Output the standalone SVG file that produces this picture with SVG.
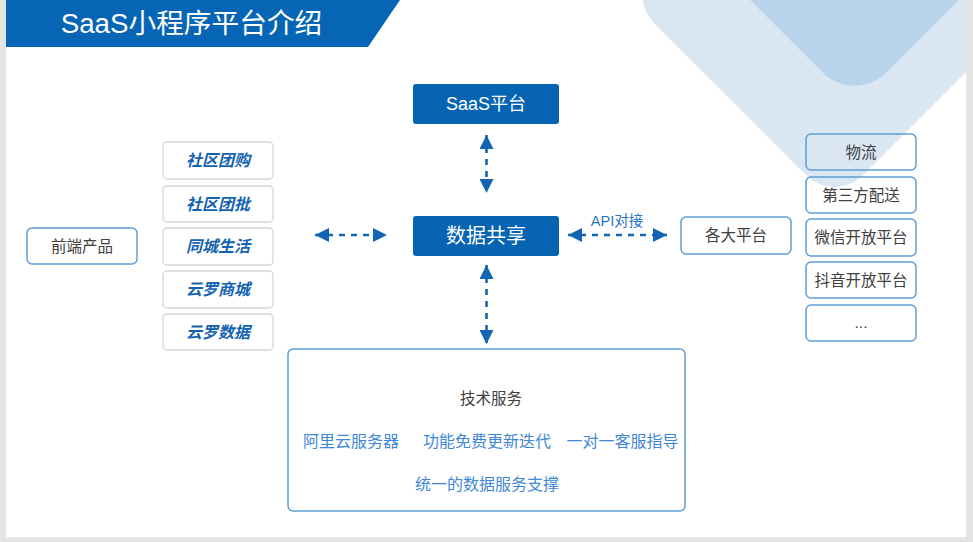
<svg xmlns="http://www.w3.org/2000/svg" width="973" height="542" viewBox="0 0 973 542">
<style>
.cjk{font-family:"Liberation Sans","Noto Sans CJK SC",sans-serif;}
.box{fill:none;stroke:#5f9dd6;stroke-width:1.5;}
.wbox{fill:#ffffff;stroke:#5f9dd6;stroke-width:1.5;}
.pbox{fill:#ffffff;stroke:#d6d6d6;stroke-width:1.3;}
.solid{fill:#0664b3;}
.dark{fill:#404040;font-size:15.5px;}
.prod{fill:#1463b3;font-size:16px;font-weight:bold;font-style:italic;}
.svc{fill:#3f87d6;font-size:16px;}
.wt{fill:#ffffff;}
.conn{stroke:#1464b4;stroke-width:2.6;stroke-dasharray:6 6;fill:none;marker-start:url(#ah);marker-end:url(#ah);}
</style>
<defs>
<clipPath id="slide"><rect x="6" y="0" width="960" height="537"/></clipPath>
<marker id="ah" markerUnits="userSpaceOnUse" viewBox="0 0 14 14" markerWidth="14" markerHeight="14" refX="14" refY="7" orient="auto-start-reverse">
<path d="M0,0 L14,7 L0,14 z" fill="#1464b4"/>
</marker>
</defs>
<rect x="0" y="0" width="973" height="542" fill="#e4e4e4"/>
<rect x="6" y="0" width="960" height="537" fill="#ffffff"/>
<g id="background" clip-path="url(#slide)">
<rect x="687" y="-152.5" width="295" height="295" rx="40" fill="#dae7f3" transform="rotate(45 834.5 -5)"/>
<rect x="748.5" y="-151.5" width="212" height="212" rx="45" fill="#b8d3ea" transform="rotate(45 854.5 -45.5)"/>
</g>
<g id="title">
<polygon points="6,0 400,0 368,47 6,47" fill="#0665b5"/>
<text class="cjk wt" x="191.5" y="33" font-size="27.7" text-anchor="middle">SaaS小程序平台介绍</text>
</g>
<g id="connectors">
<line class="conn" x1="486.5" y1="135" x2="486.5" y2="193"/>
<line class="conn" x1="486.5" y1="265" x2="486.5" y2="344"/>
<line class="conn" x1="315" y1="235" x2="387" y2="235"/>
<line class="conn" x1="568" y1="235" x2="667" y2="235"/>
<text class="cjk" x="617" y="226" font-size="14.5" fill="#2a74c4" text-anchor="middle">API对接</text>
</g>
<g id="saas">
<rect class="solid" x="413" y="84" width="146" height="40" rx="3"/>
<text class="cjk wt" x="486" y="110" font-size="18" text-anchor="middle">SaaS平台</text>
</g>
<g id="share">
<rect class="solid" x="413" y="216" width="146" height="40" rx="3"/>
<text class="cjk wt" x="486" y="243" font-size="20" text-anchor="middle">数据共享</text>
</g>
<g id="frontend">
<rect class="wbox" x="27" y="228" width="110" height="36" rx="5"/>
<text class="cjk dark" x="82" y="251.5" text-anchor="middle">前端产品</text>
</g>
<g id="products">
<g id="p1"><rect class="pbox" x="163" y="142" width="110" height="37" rx="4"/><text class="cjk prod" x="218" y="166" text-anchor="middle">社区团购</text></g>
<g id="p2"><rect class="pbox" x="163" y="186" width="110" height="36" rx="4"/><text class="cjk prod" x="218" y="210" text-anchor="middle">社区团批</text></g>
<g id="p3"><rect class="pbox" x="163" y="228" width="110" height="37" rx="4"/><text class="cjk prod" x="218" y="252" text-anchor="middle">同城生活</text></g>
<g id="p4"><rect class="pbox" x="163" y="271" width="110" height="37" rx="4"/><text class="cjk prod" x="218" y="295" text-anchor="middle">云罗商城</text></g>
<g id="p5"><rect class="pbox" x="163" y="314" width="110" height="36" rx="4"/><text class="cjk prod" x="218" y="338" text-anchor="middle">云罗数据</text></g>
</g>
<g id="platforms">
<rect class="wbox" x="681" y="217" width="110" height="37" rx="5"/>
<text class="cjk dark" x="736" y="241" text-anchor="middle">各大平台</text>
</g>
<g id="partners">
<g id="r1"><rect class="box" x="806" y="134" width="110" height="36" rx="5"/><text class="cjk dark" x="861" y="158" text-anchor="middle">物流</text></g>
<g id="r2"><rect class="box" x="806" y="177" width="110" height="36" rx="5"/><text class="cjk dark" x="861" y="201" text-anchor="middle">第三方配送</text></g>
<g id="r3"><rect class="box" x="806" y="219" width="110" height="37" rx="5"/><text class="cjk dark" x="861" y="243" text-anchor="middle">微信开放平台</text></g>
<g id="r4"><rect class="box" x="806" y="262" width="110" height="36" rx="5"/><text class="cjk dark" x="861" y="286" text-anchor="middle">抖音开放平台</text></g>
<g id="r5"><rect class="box" x="806" y="305" width="110" height="36" rx="5"/><text class="cjk dark" x="861" y="328" text-anchor="middle">...</text></g>
</g>
<g id="tech">
<rect class="wbox" x="288" y="349" width="397" height="162" rx="5"/>
<text class="cjk dark" x="491" y="404" text-anchor="middle">技术服务</text>
<text class="cjk svc" x="351" y="447" text-anchor="middle">阿里云服务器</text>
<text class="cjk svc" x="487" y="447" text-anchor="middle">功能免费更新迭代</text>
<text class="cjk svc" x="622.5" y="447" text-anchor="middle">一对一客服指导</text>
<text class="cjk svc" x="487" y="490" text-anchor="middle">统一的数据服务支撑</text>
</g>
</svg>
